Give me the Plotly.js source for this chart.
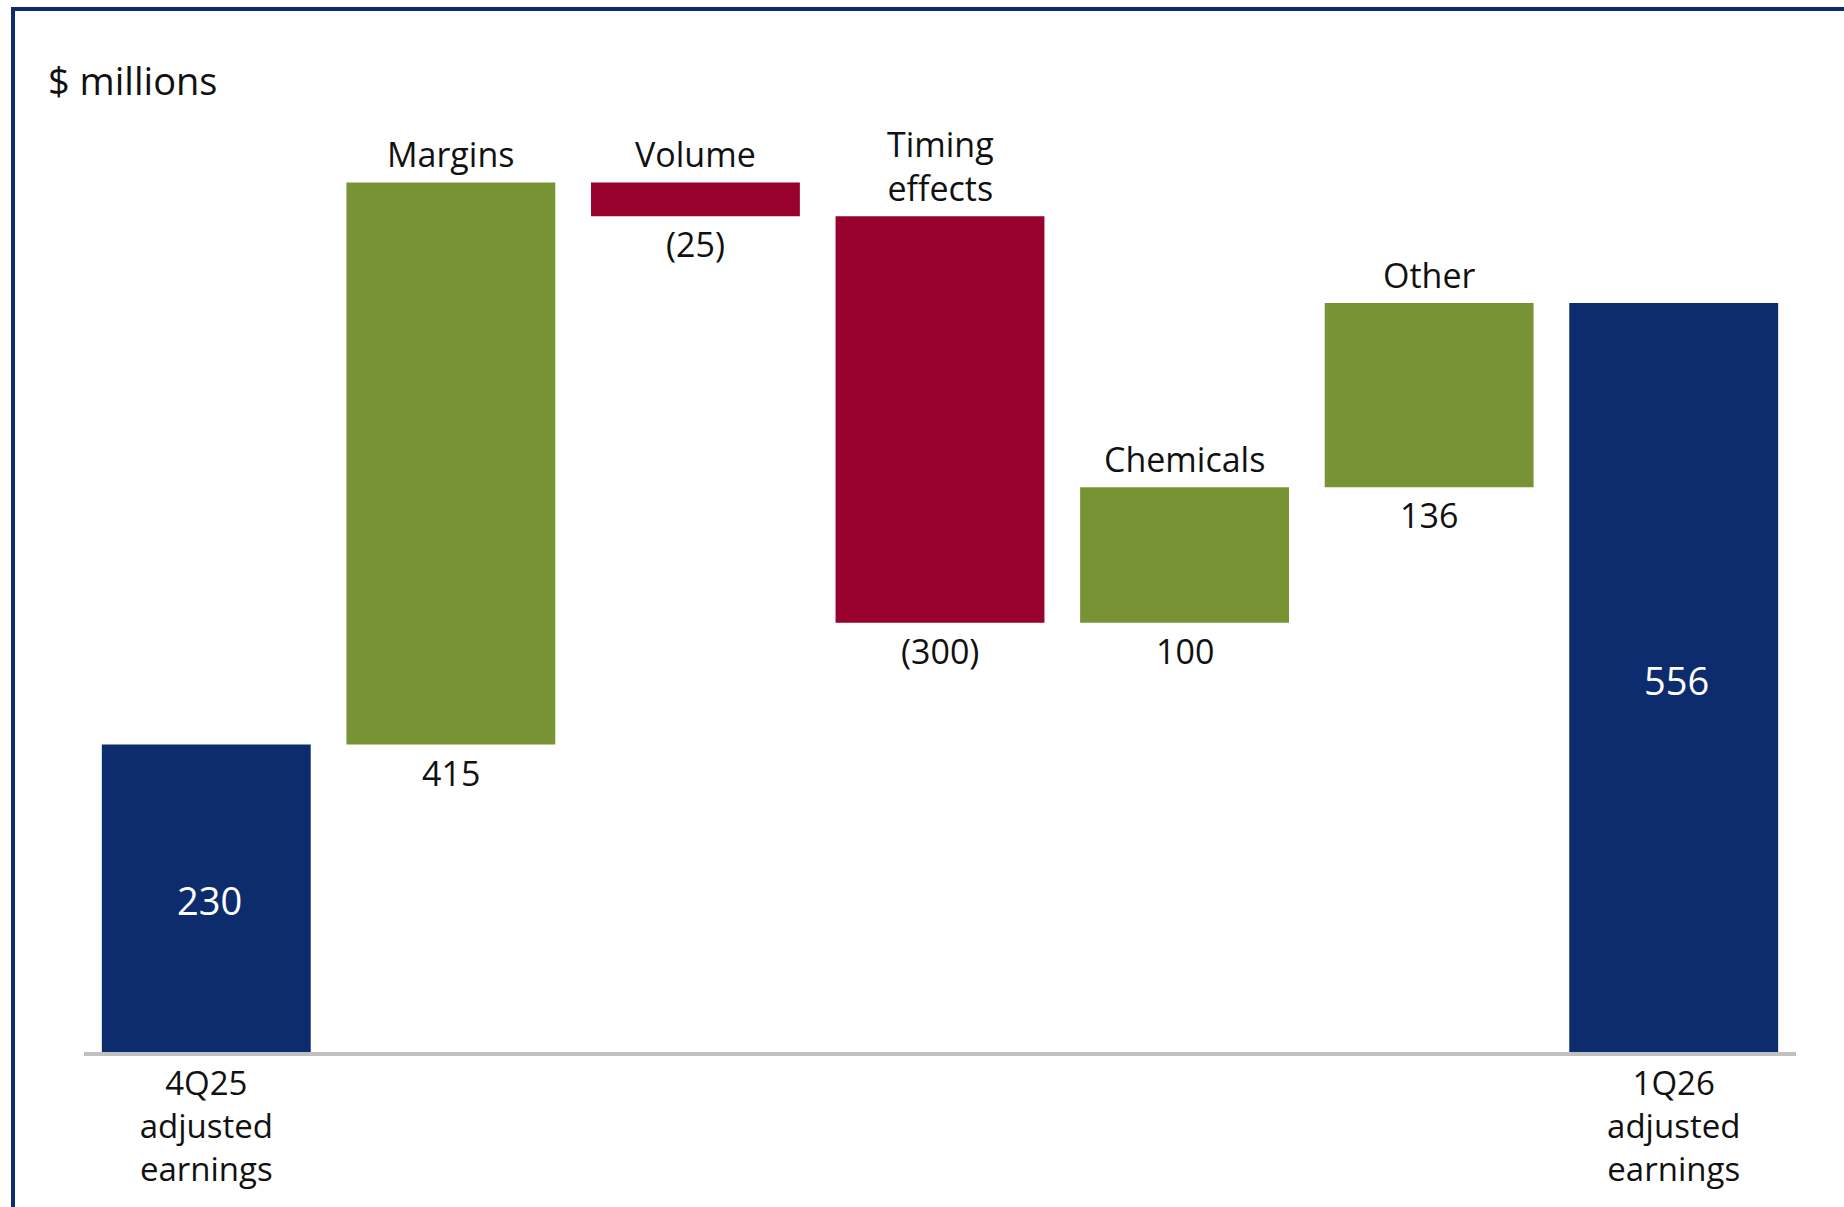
<!DOCTYPE html>
<html>
<head>
<meta charset="utf-8">
<script src="https://cdn.plot.ly/plotly-3.0.1.min.js"></script>
<style>
  html, body { margin: 0; padding: 0; background: #ffffff; }
  #chart { width: 1844px; height: 1207px; }
</style>
</head>
<body>
<div id="chart"></div>
<script>
// ---- data ----
const categories = ['4Q25 adjusted earnings', 'Margins', 'Volume', 'Timing effects', 'Chemicals', 'Other', '1Q26 adjusted earnings'];
const measures = ['absolute', 'relative', 'relative', 'relative', 'relative', 'relative', 'total'];
const values = [230, 415, -25, -300, 100, 136, 556];
const topLabels = ['', 'Margins', 'Volume', 'Timing<br>effects', 'Chemicals', 'Other', ''];
const tickLabels = ['4Q25<br>adjusted<br>earnings', '1Q26<br>adjusted<br>earnings'];
const unitLabel = '$ millions';

// ---- style ----
const NAVY = '#0d2c6e', GREEN = '#789333', RED = '#98002e', GREY = '#c0c0c0', INK = '#111111';
const FONT = '"Open Sans", "Noto Sans", sans-serif';
const FS = 34;

function fmt(v) { return v < 0 ? '(' + Math.abs(v) + ')' : String(v); }

const annotations = [];
let running = 0;
values.forEach((v, i) => {
  if (measures[i] === 'absolute' || measures[i] === 'total') {
    const total = measures[i] === 'total' ? running : v;
    running = total;
    annotations.push({
      x: categories[i], y: total / 2, xref: 'x', yref: 'y',
      text: String(total), showarrow: false, xanchor: 'center', yanchor: 'middle',
      xshift: 3,
      font: { family: FONT, size: 38, color: '#ffffff' }
    });
  } else {
    const start = running, end = running + v;
    running = end;
    const hi = Math.max(start, end), lo = Math.min(start, end);
    annotations.push({
      x: categories[i], y: hi, xref: 'x', yref: 'y',
      text: topLabels[i], showarrow: false, xanchor: 'center', yanchor: 'bottom', yshift: 3,
      font: { family: FONT, size: FS, color: INK }
    });
    annotations.push({
      x: categories[i], y: lo, xref: 'x', yref: 'y',
      text: fmt(v), showarrow: false, xanchor: 'center', yanchor: 'top', yshift: -3,
      font: { family: FONT, size: FS, color: INK }
    });
  }
});

const trace = {
  type: 'waterfall',
  x: categories,
  y: values,
  measure: measures,
  increasing: { marker: { color: GREEN } },
  decreasing: { marker: { color: RED } },
  totals: { marker: { color: NAVY } },
  connector: { visible: false },
  textinfo: 'none',
  hoverinfo: 'none',
  cliponaxis: false
};

const layout = {
  width: 1844, height: 1207,
  margin: { l: 84, r: 48, t: 108, b: 151, pad: 0 },
  paper_bgcolor: '#ffffff', plot_bgcolor: '#ffffff',
  showlegend: false,
  waterfallgap: 0.146,
  title: {
    text: unitLabel, xref: 'container', yref: 'container',
    x: 48 / 1844, xanchor: 'left', y: 1 - 82 / 1207, yanchor: 'middle',
    font: { family: '"Open Sans", "Noto Sans", sans-serif', size: 38, color: INK }
  },
  xaxis: {
    type: 'category', range: [-0.5, 6.5], fixedrange: true,
    showgrid: false, zeroline: false, showline: false, ticks: '',
    tickmode: 'array', tickvals: [categories[0], categories[6]], ticktext: tickLabels,
    tickfont: { family: FONT, size: 33, color: INK },
    ticklabelstandoff: 5
  },
  yaxis: {
    range: [0, 700], visible: false, fixedrange: true, showgrid: false, zeroline: false
  },
  annotations: annotations,
  shapes: [
    { type: 'line', xref: 'paper', yref: 'y', x0: 0, x1: 1, y0: 0, y1: 0,
      line: { color: GREY, width: 8 }, layer: 'above' },
    { type: 'path', xref: 'paper', yref: 'paper',
      path: 'M ' + ((13 - 84) / 1712) + ' ' + ((1056 - 1215) / 948) +
            ' L ' + ((13 - 84) / 1712) + ' ' + ((1056 - 9) / 948) +
            ' L ' + ((1850 - 84) / 1712) + ' ' + ((1056 - 9) / 948),
      line: { color: NAVY, width: 4 }, layer: 'above' }
  ]
};

Plotly.newPlot('chart', [trace], layout, { staticPlot: true, displayModeBar: false });
</script>
</body>
</html>
